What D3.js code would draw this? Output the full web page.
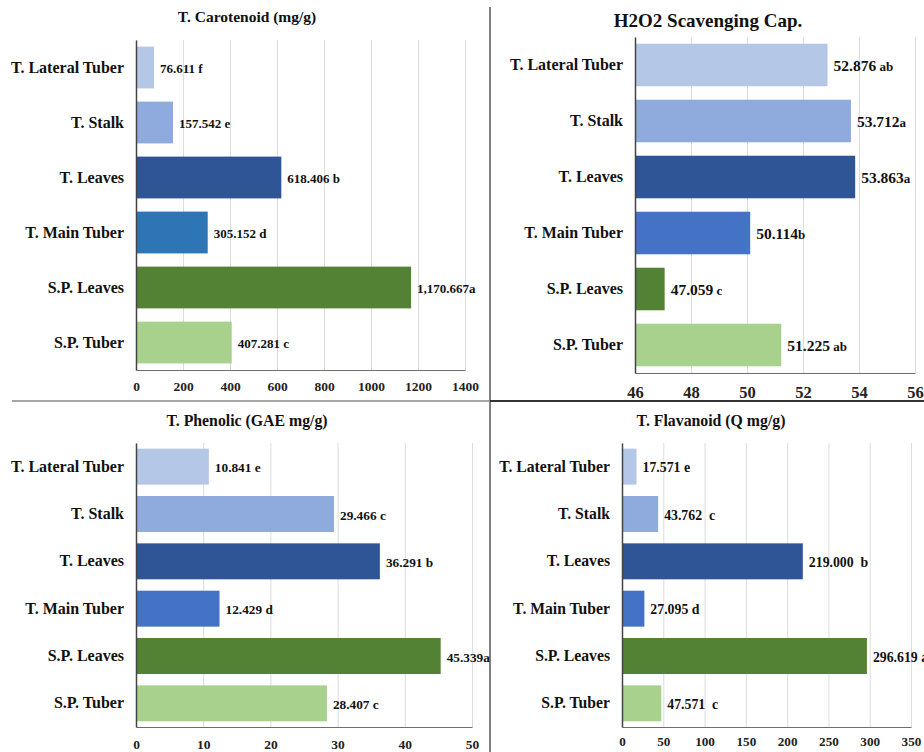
<!DOCTYPE html>
<html>
<head>
<meta charset="utf-8">
<script src="https://cdn.jsdelivr.net/npm/d3@7"></script>
<style>
body { margin: 0; background: #fff; }
svg { display: block; font-family: "Liberation Serif", "Times New Roman", serif; font-weight: bold; }
svg text { font-family: "Liberation Serif", "Times New Roman", serif; font-weight: bold; }
</style>
</head>
<body>
<svg width="924" height="752"></svg>
<script>
var categories = ["T. Lateral Tuber", "T. Stalk", "T. Leaves", "T. Main Tuber", "S.P. Leaves", "S.P. Tuber"];

var carotenoid = [76.611, 157.542, 618.406, 305.152, 1170.667, 407.281];
var carotenoidLetters = [" f", " e", " b", " d", "a", " c"];
var carotenoidTicks = [0, 200, 400, 600, 800, 1000, 1200, 1400];

var h2o2 = [52.876, 53.712, 53.863, 50.114, 47.059, 51.225];
var h2o2Letters = [" ab", "a", "a", "b", " c", " ab"];
var h2o2Ticks = [46, 48, 50, 52, 54, 56];

var phenolic = [10.841, 29.466, 36.291, 12.429, 45.339, 28.407];
var phenolicLetters = [" e", " c", " b", " d", "a", " c"];
var phenolicTicks = [0, 10, 20, 30, 40, 50];

var flavanoid = [17.571, 43.762, 219.000, 27.095, 296.619, 47.571];
var flavanoidLetters = [" e", "  c", "  b", " d", " a", "  c"];
var flavanoidTicks = [0, 50, 100, 150, 200, 250, 300, 350];

var blues = ["#b4c7e7", "#8faadc", "#2f5597"];
var greens = ["#548235", "#a9d18e"];
var paletteA = blues.concat(["#2e75b6"], greens);
var paletteB = blues.concat(["#4472c4"], greens);

var svg = d3.select("svg");
var fmt = d3.format(",.3f");

var panels = [
  {title: "T. Carotenoid (mg/g)", values: carotenoid, letters: carotenoidLetters, ticks: carotenoidTicks,
   palette: paletteA, left: 136, right: 465, top: 40, bottom: 370, titleX: 247, titleY: 22, titleSize: 15.5,
   catSize: 16, tickSize: 13.5, tickPad: 11, valSize: 13, letterSize: 13},
  {title: "H2O2 Scavenging Cap.", values: h2o2, letters: h2o2Letters, ticks: h2o2Ticks,
   palette: paletteB, left: 635, right: 915, top: 37, bottom: 373, titleX: 708, titleY: 27, titleSize: 19,
   catSize: 16, tickSize: 16.5, tickPad: 13, valSize: 15.5, letterSize: 13},
  {title: "T. Phenolic (GAE mg/g)", values: phenolic, letters: phenolicLetters, ticks: phenolicTicks,
   palette: paletteB, left: 136, right: 472, top: 443, bottom: 727, titleX: 247, titleY: 426, titleSize: 15.8,
   catSize: 16, tickSize: 13.5, tickPad: 12, valSize: 13.3, letterSize: 13.3},
  {title: "T. Flavanoid (Q mg/g)", values: flavanoid, letters: flavanoidLetters, ticks: flavanoidTicks,
   palette: paletteB, left: 622, right: 911, top: 443, bottom: 727, titleX: 711, titleY: 426, titleSize: 15.8,
   catSize: 15.7, tickSize: 13.2, tickPad: 10, valSize: 13.8, letterSize: 13.8}
];

panels.forEach(function(p) {
  var x = d3.scaleLinear()
    .domain([p.ticks[0], p.ticks[p.ticks.length - 1]])
    .range([p.left, p.right]);
  var y = d3.scaleBand()
    .domain(categories)
    .range([p.top, p.bottom])
    .paddingInner(0.24)
    .paddingOuter(0.12);

  var g = svg.append("g");

  // title
  g.append("text")
    .attr("x", p.titleX)
    .attr("y", p.titleY)
    .attr("text-anchor", "middle")
    .style("font-size", p.titleSize + "px")
    .attr("fill", "#111")
    .text(p.title);

  // bottom axis with gridlines
  var xAxis = g.append("g")
    .attr("transform", "translate(0," + p.bottom + ")")
    .call(d3.axisBottom(x)
      .tickValues(p.ticks)
      .tickFormat(d3.format("d"))
      .tickSize(-(p.bottom - p.top))
      .tickSizeOuter(0)
      .tickPadding(p.tickPad))
    .attr("font-family", null)
    .attr("font-size", null);
  xAxis.selectAll(".tick line").attr("stroke", "#dcdcdc");
  xAxis.select(".domain").attr("stroke", "#6e6e6e").attr("stroke-width", 1.2);
  xAxis.selectAll("text")
    .attr("fill", "#222")
    .style("font-size", p.tickSize + "px");

  // bars
  g.selectAll("rect.bar")
    .data(p.values)
    .enter()
    .append("rect")
    .attr("class", "bar")
    .attr("x", x(p.ticks[0]))
    .attr("y", function(d, i) { return y(categories[i]); })
    .attr("width", function(d) { return x(d) - x(p.ticks[0]); })
    .attr("height", y.bandwidth())
    .attr("fill", function(d, i) { return p.palette[i]; });

  // left axis with category labels
  var yAxis = g.append("g")
    .attr("transform", "translate(" + p.left + ",0)")
    .call(d3.axisLeft(y).tickSize(0).tickPadding(12))
    .attr("font-family", null)
    .attr("font-size", null);
  yAxis.select(".domain").attr("stroke", "#444").attr("stroke-width", 1.5);
  yAxis.selectAll("text")
    .attr("fill", "#111")
    .style("font-size", p.catSize + "px");

  // value labels
  var labels = g.selectAll("text.value")
    .data(p.values)
    .enter()
    .append("text")
    .attr("class", "value")
    .attr("x", function(d) { return x(d) + 6; })
    .attr("y", function(d, i) { return y(categories[i]) + y.bandwidth() / 2; })
    .attr("dy", "0.35em")
    .attr("fill", "#111")
    .style("white-space", "pre");
  labels.append("tspan")
    .style("font-size", p.valSize + "px")
    .text(function(d) { return fmt(d); });
  labels.append("tspan")
    .style("font-size", p.letterSize + "px")
    .text(function(d, i) { return p.letters[i]; });
});

// panel separators
svg.append("line")
  .attr("x1", 490).attr("x2", 490).attr("y1", 7).attr("y2", 752)
  .attr("stroke", "#555").attr("stroke-width", 1.5);
svg.append("line")
  .attr("x1", 12).attr("x2", 490).attr("y1", 401).attr("y2", 401)
  .attr("stroke", "#888").attr("stroke-width", 1.5);
svg.append("line")
  .attr("x1", 490).attr("x2", 924).attr("y1", 401).attr("y2", 401)
  .attr("stroke", "#333").attr("stroke-width", 2);
</script>
</body>
</html>
